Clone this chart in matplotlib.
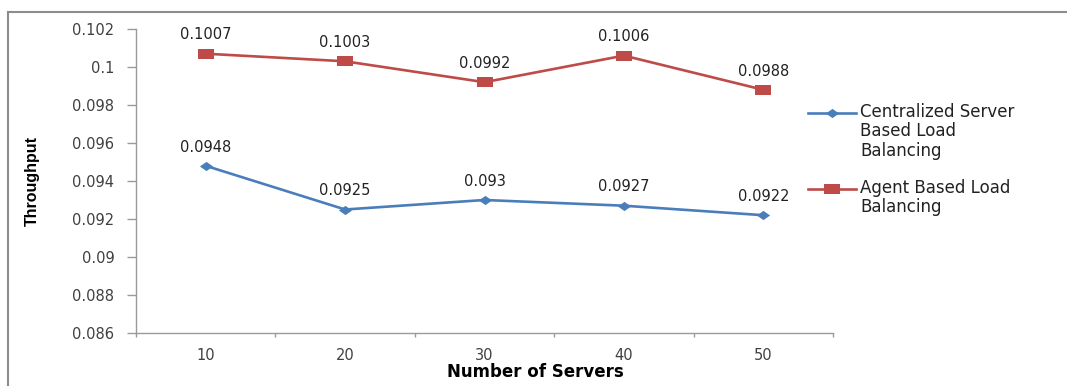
import matplotlib
matplotlib.use('Agg')
import matplotlib.pyplot as plt
from matplotlib.lines import Line2D
from matplotlib.ticker import FixedLocator, FuncFormatter

# Datos de rendimiento por número de servidores
servers = ['10', '20', '30', '40', '50']
centralized = [0.0948, 0.0925, 0.093, 0.0927, 0.0922]
agent = [0.1007, 0.1003, 0.0992, 0.1006, 0.0988]
series_names = ['Centralized Server\nBased Load\nBalancing',
                'Agent Based Load\nBalancing']

BLUE = '#4A7EBB'
RED = '#BE4B48'
GRID = '#9a9a9a'
TXT = '#404040'

# marcadores algo más anchos que altos
diamond = [(-1, 0), (0, 0.7), (1, 0), (0, -0.7), (-1, 0)]
rect = [(-1, -0.55), (1, -0.55), (1, 0.55), (-1, 0.55), (-1, -0.55)]

fig = plt.figure(figsize=(10.67, 3.86), dpi=100)
ax = fig.add_axes([136/1067, 1 - 333/386, (833 - 136)/1067, (333 - 29)/386])

x = list(range(1, len(servers) + 1))
ax.plot(x, centralized, color=BLUE, lw=1.9, marker=diamond, ms=9.5,
        markeredgewidth=0, markerfacecolor=BLUE)
ax.plot(x, agent, color=RED, lw=1.9, marker=rect, ms=12,
        markeredgewidth=0, markerfacecolor=RED)

# etiquetas de valor sobre cada punto
for vals in (centralized, agent):
    for xi, v in zip(x, vals):
        ax.annotate(f'{v:g}', (xi, v), xytext=(0, 13.5), textcoords='offset points',
                    ha='center', va='center', fontsize=10.5, color='#222222')

ax.set_xlim(0.5, len(servers) + 0.5)
ax.set_ylim(0.086, 0.102)
ax.set_yticks([0.086 + 0.002 * i for i in range(9)])
ax.yaxis.set_major_formatter(FuncFormatter(lambda v, p: f'{round(v, 4):g}'))
ax.set_xticks(x)
ax.set_xticklabels(servers)
ax.xaxis.set_minor_locator(FixedLocator([i + 0.5 for i in range(len(servers) + 1)]))

for side in ('top', 'right'):
    ax.spines[side].set_visible(False)
for side in ('left', 'bottom'):
    ax.spines[side].set_color(GRID)
    ax.spines[side].set_linewidth(1.0)

ax.tick_params(axis='y', which='major', length=6.5, width=1.0, color=GRID,
               pad=9, labelsize=10.5, labelcolor=TXT)
ax.tick_params(axis='x', which='major', length=0, pad=11,
               labelsize=10.5, labelcolor=TXT)
ax.tick_params(axis='x', which='minor', length=3, width=1.0, color=GRID)

fig.text(535/1067, 1 - 372/386, 'Number of Servers', ha='center', va='center',
         fontsize=12, fontweight='bold', color='black')
fig.text(32/1067, 1 - 181/386, 'Throughput', ha='center', va='center',
         rotation=90, fontsize=11.5, fontweight='bold',
         family=['Liberation Sans', 'DejaVu Sans'], color='black')

# leyenda dibujada a mano, con el símbolo en la primera línea del texto
leg = [(BLUE, diamond, 9.5, series_names[0], 113),
       (RED, rect, 12, series_names[1], 189)]
for color, mk, ms, name, yy in leg:
    yf = 1 - yy/386
    fig.add_artist(Line2D([808/1067, 856/1067], [yf, yf], color=color, lw=1.9))
    fig.add_artist(Line2D([832/1067], [yf], color=color, marker=mk, ms=ms,
                          markeredgewidth=0, markerfacecolor=color))
    fig.text(860/1067, yf + 10/386, name, ha='left', va='top', fontsize=12,
             color='#222222', linespacing=1.1)

# marco exterior (solo borde izquierdo y superior)
border = '#8c8c8c'
fig.add_artist(Line2D([8/1067, 8/1067], [0, 1 - 12/386], color=border, lw=1.5))
fig.add_artist(Line2D([8/1067, 1], [1 - 12/386, 1 - 12/386], color=border, lw=1.5))

fig.savefig('out.png', dpi=100)
